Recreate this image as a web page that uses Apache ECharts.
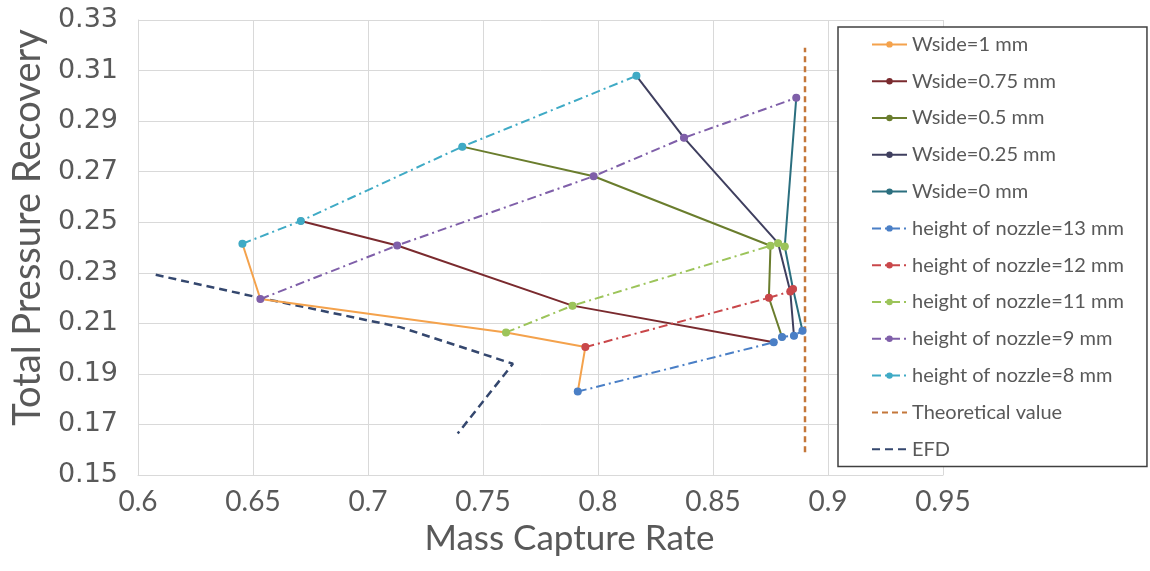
<!DOCTYPE html>
<html>
<head>
<meta charset="utf-8">
<script src="https://cdn.jsdelivr.net/npm/echarts@6/dist/echarts.min.js"></script>
<style>
  html, body { margin: 0; padding: 0; background: #fff; }
  #chart { width: 1150px; height: 571px; }
</style>
</head>
<body>
<div id="chart"></div>
<script>
// [mass capture rate, total pressure recovery]
const wside1 = [[0.6454, 0.2415], [0.6532, 0.2196], [0.7600, 0.2064], [0.7945, 0.2006], [0.7912, 0.1830]];
const wside075 = [[0.6708, 0.2505], [0.7127, 0.2408], [0.7889, 0.2170], [0.8764, 0.2025]];
const wside05 = [[0.7410, 0.2799], [0.7981, 0.2682], [0.8750, 0.2407], [0.8743, 0.2201], [0.8800, 0.2046]];
const wside025 = [[0.8167, 0.3079], [0.8374, 0.2834], [0.8783, 0.2417], [0.8836, 0.2226], [0.8852, 0.2051]];
const wside0 = [[0.8862, 0.2992], [0.8812, 0.2404], [0.8848, 0.2236], [0.8889, 0.2071]];

const nozzle13 = [[0.7912, 0.1830], [0.8764, 0.2025], [0.8800, 0.2046], [0.8852, 0.2051], [0.8889, 0.2071]];
const nozzle12 = [[0.7945, 0.2006], [0.8743, 0.2201], [0.8836, 0.2226], [0.8848, 0.2236]];
const nozzle11 = [[0.7600, 0.2064], [0.7889, 0.2170], [0.8750, 0.2407], [0.8783, 0.2417], [0.8812, 0.2404]];
const nozzle9 = [[0.6532, 0.2196], [0.7127, 0.2408], [0.7981, 0.2682], [0.8374, 0.2834], [0.8862, 0.2992]];
const nozzle8 = [[0.6454, 0.2415], [0.6708, 0.2505], [0.7410, 0.2799], [0.8167, 0.3079]];

const theoretical = [[0.89, 0.159], [0.89, 0.319]];
const efd = [[0.6077, 0.2292], [0.6520, 0.2203], [0.7140, 0.2085], [0.7630, 0.1940], [0.7390, 0.1664]];

const FONT = 'Lato';
const dashDot = [9, 4, 2, 4];

function solid(name, data, color) {
  return {
    name: name, type: 'line', data: data,
    symbol: 'circle', symbolSize: 7, showSymbol: true,
    lineStyle: { color: color, width: 2 },
    itemStyle: { color: color },
    z: 2
  };
}
function nozzle(name, data, color) {
  return {
    name: name, type: 'line', data: data,
    symbol: 'circle', symbolSize: 8,
    lineStyle: { color: color, width: 2, type: dashDot },
    itemStyle: { color: color },
    z: 3
  };
}

var chart = echarts.init(document.getElementById('chart'));

var series = [
  solid('Wside=1 mm', wside1, '#f4a24c'),
  solid('Wside=0.75 mm', wside075, '#7a2a2e'),
  solid('Wside=0.5 mm', wside05, '#6a7d2d'),
  solid('Wside=0.25 mm', wside025, '#3f3f5f'),
  solid('Wside=0 mm', wside0, '#2b6f7f'),
  nozzle('height of nozzle=13 mm', nozzle13, '#4a7fc6'),
  nozzle('height of nozzle=12 mm', nozzle12, '#c9474a'),
  nozzle('height of nozzle=11 mm', nozzle11, '#9cc45a'),
  nozzle('height of nozzle=9 mm', nozzle9, '#7f5fa9'),
  nozzle('height of nozzle=8 mm', nozzle8, '#3faac5'),
  {
    name: 'Theoretical value', type: 'line', data: theoretical,
    symbol: 'none',
    lineStyle: { color: '#c4773a', width: 2.5, type: [6, 4] },
    itemStyle: { color: '#c4773a' },
    z: 1
  },
  {
    name: 'EFD', type: 'line', data: efd,
    symbol: 'none',
    lineStyle: { color: '#34476e', width: 2.5, type: [8, 5] },
    itemStyle: { color: '#34476e' },
    z: 1
  }
];

// legend entries: the two reference lines have no marker
var legendData = series.map(function (s) {
  if (s.symbol === 'none') {
    return { name: s.name, itemStyle: { opacity: 0 } };
  }
  return { name: s.name };
});

var option = {
  backgroundColor: '#ffffff',
  animation: false,
  grid: { left: 138, right: 207, top: 20, bottom: 96, outerBoundsMode: 'none' },
  xAxis: {
    type: 'value', min: 0.6, max: 0.95, interval: 0.05,
    name: 'Mass Capture Rate', nameLocation: 'middle', nameGap: 42,
    nameTextStyle: { fontFamily: FONT, fontSize: 35, color: '#595959', padding: [0, 0, 0, 58] },
    axisLine: { show: true, lineStyle: { color: '#d9d9d9' } },
    axisTick: { show: false },
    axisLabel: { fontFamily: FONT, fontSize: 28, color: '#595959', margin: 13 },
    splitLine: { show: true, lineStyle: { color: '#d9d9d9', width: 1 } }
  },
  yAxis: {
    type: 'value', min: 0.15, max: 0.33, interval: 0.02,
    name: 'Total Pressure Recovery', nameLocation: 'middle', nameGap: 90,
    nameTextStyle: { fontFamily: FONT, fontSize: 38, color: '#595959', padding: [0, 0, 0, 40] },
    axisLine: { show: true, lineStyle: { color: '#d9d9d9' } },
    axisTick: { show: false },
    axisLabel: { fontFamily: 'DejaVu Sans', fontSize: 27, color: '#595959', margin: 20 },
    splitLine: { show: true, lineStyle: { color: '#d9d9d9', width: 1 } }
  },
  legend: {
    orient: 'vertical',
    left: 838, top: 27,
    padding: [7.4, 23, 7.4, 33],
    itemWidth: 35, itemHeight: 8, itemGap: 16.8,
    backgroundColor: '#ffffff',
    borderColor: '#404040', borderWidth: 1.5,
    textStyle: { fontFamily: FONT, fontSize: 20, color: '#595959' },
    data: legendData,
    z: 10
  },
  series: series
};

chart.setOption(option);
</script>
</body>
</html>
